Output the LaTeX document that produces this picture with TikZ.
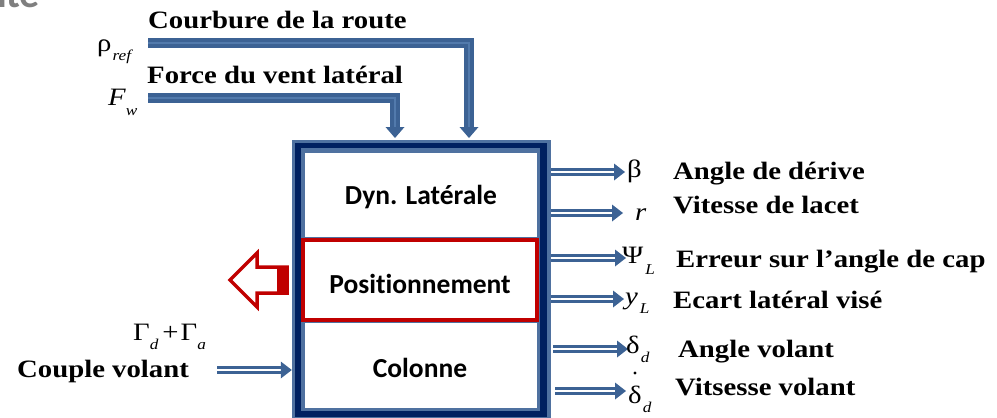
\documentclass[tikz,border=0pt]{standalone}
\usepackage{fontspec}
\setmainfont{Liberation Serif}
\newfontfamily\tnr[FakeStretch=1.15]{Liberation Serif}
\newfontfamily\carl[Ligatures=NoCommon]{Carlito}
\usetikzlibrary{arrows.meta,decorations.markings}
\definecolor{arrblue}{RGB}{60,98,148}
\definecolor{arrlight}{RGB}{82,122,172}
\definecolor{navy}{RGB}{0,32,96}
\definecolor{frameblue}{RGB}{79,113,160}
\definecolor{darkred}{RGB}{192,0,0}
\definecolor{titlegray}{RGB}{127,127,127}
\newcommand\lsub[2][9pt]{\raisebox{-#1}{\fontsize{15}{15}\selectfont\itshape #2}}
\begin{document}
\begin{tikzpicture}[x=1pt,y=-1pt,
  lbl/.style={anchor=base west, inner sep=0pt, font=\tnr\bfseries\fontsize{25}{25}\selectfont},
  sym/.style={anchor=base west, inner sep=0pt, font=\tnr\fontsize{25}{25}\selectfont},
  sec/.style={anchor=base, inner sep=0pt, font=\carl\bfseries\fontsize{27.5}{27.5}\selectfont},
  bluetip/.style={postaction={decorate, decoration={markings, mark=at position 1 with {\fill[arrblue] (0pt,0pt) -- (-11pt,#1) -- (-11pt,-#1) -- cycle;}}}},
  outarrow/.style={draw=arrblue, double=white, line width=3.2pt, double distance=2.2pt, shorten >=8pt, bluetip=8.5pt},
  inarrow/.style={draw=arrblue, double=arrlight, line width=3.5pt, double distance=2.4pt, line join=miter, shorten >=8pt, bluetip=9.5pt},
]
\useasboundingbox (0,0) rectangle (997,418);
\clip (0,0) rectangle (997,418);

% title fragment
\node[anchor=base east, inner sep=0pt, text=titlegray, font=\carl\bfseries\fontsize{40}{40}\selectfont] (title) at (40,7) {nte};

% main frame
\node[minimum width=259pt, minimum height=281pt, inner sep=0pt] (box) at (421.5,280.5) {};
\fill[frameblue] (292,140) rectangle (551,421);
\fill[navy] (295,143) rectangle (547,417);
\fill[frameblue] (301,148) rectangle (540,411);
\fill[white] (305,153) rectangle (537,408);
\draw[frameblue, line width=2pt] (305,238) -- (537,238);
\draw[frameblue, line width=2pt] (305,322) -- (537,322);

% sections
\node[sec] (dyn) at (421,204) {Dyn. Latérale};
\node[draw=darkred, line width=4pt, minimum width=234pt, minimum height=80pt, inner sep=0pt] (posbox) at (420,280) {};
\node[sec] (pos) at (420,293) {Positionnement};
\node[sec] (col) at (420,377) {Colonne};

% top inputs
\node[sym] (rho) at (97,51) {ρ\kern1pt\lsub{ref}};
\node[sym] (fw) at (108,105) {\itshape F\lsub[10pt]{w}};
\node[lbl] (courbure) at (148,28) {Courbure de la route};
\node[lbl] (force) at (147,83) {Force du vent latéral};
\coordinate (c1s) at (148,43);
\coordinate (c1e) at (469,138);
\coordinate (c2s) at (148,98);
\coordinate (c2e) at (395,138);
\draw[inarrow] (c1s) -| (c1e);
\draw[inarrow] (c2s) -| (c2e);

% outputs
\coordinate (o1) at (625,172);
\coordinate (o2) at (623,213);
\coordinate (o3) at (626,258);
\coordinate (o4) at (624,299);
\coordinate (o5s) at (553,349);
\coordinate (o5) at (628,349);
\coordinate (o6s) at (555,391);
\coordinate (o6) at (626,391);
\draw[outarrow] (box.east |- o1) -- (o1);
\draw[outarrow] (box.east |- o2) -- (o2);
\draw[outarrow] (box.east |- o3) -- (o3);
\draw[outarrow] (box.east |- o4) -- (o4);
\draw[outarrow] (o5s) -- (o5);
\draw[outarrow] (o6s) -- (o6);

\node[sym] (beta) at (627,177) {β};
\node[sym] (r) at (635,220) {\itshape r};
\node[sym] (psi) at (622,263) {Ψ\kern2pt\lsub[11pt]{L}};
\node[sym] (yl) at (625,304) {\itshape y\kern2pt\lsub{L}};
\node[sym] (delta) at (626,353) {δ\kern1pt\lsub{d}};
\node[sym] (deltadot) at (628,403) {δ\kern1pt\lsub{d}};
\fill[black] ([xshift=7pt,yshift=30pt]deltadot.base west) circle (1.6pt);

\node[lbl] (l1) at (673,179) {Angle de dérive};
\node[lbl] (l2) at (673,213) {Vitesse de lacet};
\node[lbl] (l3) at (676,267) {Erreur sur l’angle de cap};
\node[lbl] (l4) at (673,308) {Ecart latéral visé};
\node[lbl] (l5) at (678,357) {Angle volant};
\node[lbl] (l6) at (675,395) {Vitsesse volant};

% left input
\node[lbl] (couple) at (17,377) {Couple volant};
\node[sym] (gamma) at (133,340) {Γ\lsub{d}\kern4pt+\kern2ptΓ\lsub{a}};
\coordinate (cin) at (217,370);
\draw[outarrow] (cin) -- (box.west |- cin);

% red hollow arrow
\fill[darkred] (277,267) rectangle (287,293);
\draw[darkred, line width=3.5pt, line join=miter] (287,267) -- (257,267) -- (257,253) -- (230,280) -- (257,307) -- (257,293) -- (287,293) -- cycle;
\end{tikzpicture}
\end{document}
